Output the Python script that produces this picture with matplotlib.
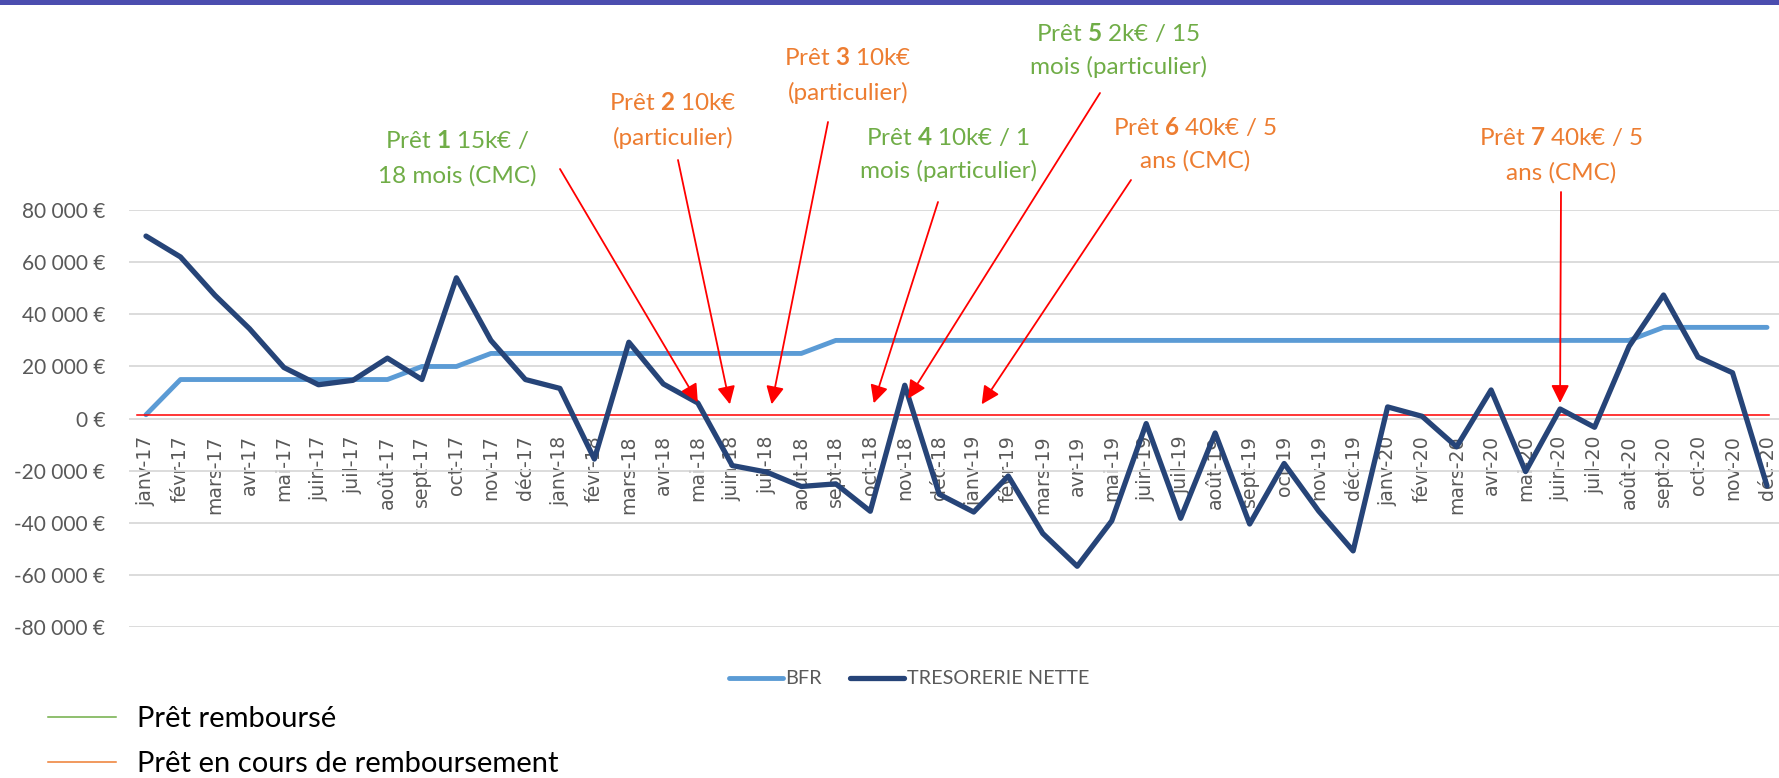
import matplotlib
matplotlib.use('Agg')
import matplotlib.pyplot as plt
from matplotlib.lines import Line2D
from matplotlib.patches import Rectangle
from matplotlib.ticker import FuncFormatter, FixedLocator

plt.rcParams['mathtext.fontset'] = 'custom'
plt.rcParams['mathtext.rm'] = 'Lato'
plt.rcParams['mathtext.bf'] = 'Lato:bold'

# ---------------- data ----------------
MONTHS = ['janv', 'févr', 'mars', 'avr', 'mai', 'juin', 'juil', 'août', 'sept', 'oct', 'nov', 'déc']
YEARS = ['17', '18', '19', '20']
categories = [f'{m}-{y}' for y in YEARS for m in MONTHS]

bfr = [1500, 15000, 15000, 15000, 15000, 15000, 15000, 15000, 20000, 20000, 25000, 25000,
       25000, 25000, 25000, 25000, 25000, 25000, 25000, 25000, 30000, 30000, 30000, 30000,
       30000, 30000, 30000, 30000, 30000, 30000, 30000, 30000, 30000, 30000, 30000, 30000,
       30000, 30000, 30000, 30000, 30000, 30000, 30000, 30000, 35000, 35000, 35000, 35000]

tresorerie = [70000, 62000, 47300, 34500, 19600, 13000, 14700, 23200, 15000, 54000, 30000, 15000,
              11600, -15500, 29300, 13300, 6000, -18000, -20500, -26000, -25000, -35500, 12800, -29000,
              -35800, -22000, -44000, -56600, -39200, -1900, -38200, -5500, -40400, -17200, -35400, -50700,
              4500, 900, -10800, 11000, -20300, 3700, -3300, 27700, 47400, 23600, 17600, -25800]

threshold = 1500  # red reference line

yticks = [-80000, -60000, -40000, -20000, 0, 20000, 40000, 60000, 80000]

loan_line1 = ['Prêt $\\mathbf{1}$ 15k€ /', 'Prêt $\\mathbf{2}$ 10k€', 'Prêt $\\mathbf{3}$ 10k€',
              'Prêt $\\mathbf{4}$ 10k€ / 1', 'Prêt $\\mathbf{5}$ 2k€ / 15', 'Prêt $\\mathbf{6}$ 40k€ / 5',
              'Prêt $\\mathbf{7}$ 40k€ / 5']
loan_line2 = ['18 mois (CMC)', '(particulier)', '(particulier)', 'mois (particulier)',
              'mois (particulier)', 'ans (CMC)', 'ans (CMC)']
loan_repaid = [True, False, False, True, True, False, False]
loan_target = ['mai-18', 'juin-18', 'juil-18', 'oct-18', 'nov-18', 'janv-19', 'juin-20']
loan_target_value = [6300, 5500, 5500, 5900, 7700, 5500, 6000]
loan_target_offset = [0.0, -0.07, 0.14, 0.1, 0.1, 0.23, 0.0]

# ---------------- layout (pixels of a 1779x778 canvas) ----------------
W, H = 1779, 778
GREEN = '#70AD47'
ORANGE = '#ED7D31'
GRAY = '#595959'

# text block centres / baselines, arrow start points
text_x = [457, 673, 848, 948, 1118, 1195, 1561]
text_base1 = [148, 110, 65, 145, 41, 135, 145]
text_base2 = [183, 145, 100, 178, 74, 168, 180]
arrow_start = [(560, 169), (678, 160), (828, 122), (938, 202), (1100, 93), (1131, 180), (1561, 192)]

fig = plt.figure(figsize=(W / 100, H / 100), dpi=100)
fig.patch.set_facecolor('white')

ax_left = 128.75 / W
ax_w = 1655.5 / W
ax_bottom = 1 - 627.3 / H
ax_h = (627.3 - 210.0) / H
ax = fig.add_axes([ax_left, ax_bottom, ax_w, ax_h])

x = list(range(len(categories)))

ax.set_ylim(-80000, 80000)
ax.set_xlim(-0.5, len(categories) - 0.5)
ax.yaxis.set_major_locator(FixedLocator(yticks))
ax.yaxis.set_major_formatter(FuncFormatter(lambda v, p: f'{v:,.0f} €'.replace(',', ' ')))
ax.grid(axis='y', color='#D9D9D9', lw=1.3, zorder=0)
ax.set_axisbelow(True)
for s in ax.spines.values():
    s.set_visible(False)
ax.spines['bottom'].set_position(('data', 0))

ax.set_xticks(x)
ax.set_xticklabels(categories, rotation=90, fontfamily='DejaVu Sans', fontsize=13.6, color=GRAY)
ax.tick_params(axis='x', length=0, pad=12)
ax.tick_params(axis='y', length=0, pad=17, labelsize=15, labelcolor=GRAY)
for lab in ax.get_yticklabels():
    lab.set_fontfamily('Lato')

l_bfr, = ax.plot(x, bfr, color='#5B9BD5', lw=3.5, solid_joinstyle='round',
                 solid_capstyle='round', zorder=3, label='BFR')
ax.plot([-0.25, len(categories) - 1 + 0.05], [threshold, threshold], color='#FF0000', lw=1.1, zorder=3.5)
l_tr, = ax.plot(x, tresorerie, color='#264478', lw=3.8, solid_joinstyle='round',
                solid_capstyle='round', zorder=4, label='TRESORERIE NETTE')

# loan annotations
for i in range(len(loan_line1)):
    col = GREEN if loan_repaid[i] else ORANGE
    fig.text(text_x[i] / W, 1 - text_base1[i] / H, loan_line1[i], ha='center', va='baseline',
             color=col, fontsize=17.5, fontfamily='Lato')
    fig.text(text_x[i] / W, 1 - text_base2[i] / H, loan_line2[i], ha='center', va='baseline',
             color=col, fontsize=17.5, fontfamily='Lato')
    tx = categories.index(loan_target[i]) + loan_target_offset[i]
    sx, sy = arrow_start[i]
    ax.annotate('', xy=(tx, loan_target_value[i]), xycoords='data',
                xytext=(sx / W, 1 - sy / H), textcoords='figure fraction',
                arrowprops=dict(arrowstyle='-|>,head_length=0.6,head_width=0.3', color='#FF0000',
                                lw=1.3, mutation_scale=18, shrinkA=0, shrinkB=0),
                annotation_clip=False, zorder=6)

# series legend
leg = fig.legend([l_bfr, l_tr], ['BFR', 'TRESORERIE NETTE'], loc='center',
                 bbox_to_anchor=(909 / W, 1 - 679 / H), ncol=2, frameon=False,
                 prop={'family': 'Lato', 'size': 14.3}, labelcolor=GRAY,
                 handlelength=2.7, handletextpad=0.15, columnspacing=1.4)

# loan status legend
for yy, col, txt in [(717, GREEN, 'Prêt remboursé'), (762, ORANGE, 'Prêt en cours de remboursement')]:
    fig.add_artist(Line2D([48 / W, 116 / W], [1 - yy / H, 1 - yy / H], color=col, lw=1.1))
    fig.text(137 / W, 1 - (yy + 10) / H, txt, ha='left', va='baseline', color='black',
             fontsize=21, fontfamily='Lato')

# top band
fig.add_artist(Rectangle((0, 1 - 5 / H), 1, 5 / H, transform=fig.transFigure,
                         color='#4B4DAF', lw=0))

fig.savefig('out.png', dpi=100, facecolor='white')
